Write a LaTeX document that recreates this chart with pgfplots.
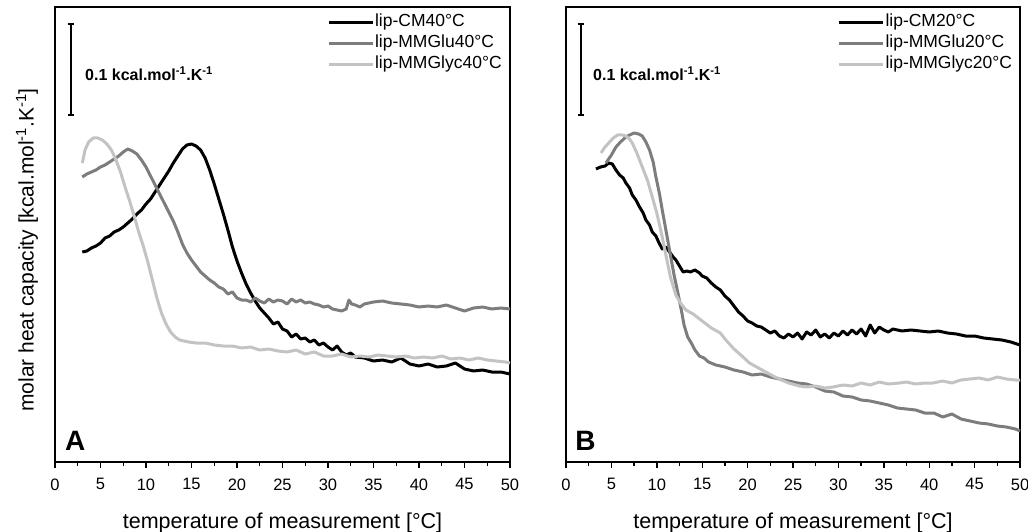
\documentclass[border=0pt]{standalone}
\usepackage{fontspec}
\setmainfont{Liberation Sans}
\usepackage{pgfplots}
\pgfplotsset{compat=1.18}
\usetikzlibrary{arrows.meta}
\definecolor{midgray}{RGB}{125,125,125}
\definecolor{lightgray}{RGB}{195,195,195}
\pgfplotsset{
  dscstyle/.style={
    scale only axis, width=455pt, height=455pt,
    xmin=0, xmax=50, ymin=7, ymax=462, y dir=reverse,
    xtick={0,5,...,50}, minor x tick num=1, ytick=\empty,
    tick align=outside, xtick pos=left,
    major tick length=6pt, minor tick length=4pt,
    every tick/.style={black, line width=1.4pt},
    axis line style={line width=1.5pt},
    /pgf/number format/assume math mode=true,
    xticklabel style={font=\fontsize{16.5}{18}\selectfont, yshift=-7pt},
    every axis x label/.style={at={(axis description cs:0.5,0)}, anchor=center, yshift=-61pt, font=\fontsize{21.5}{24}\selectfont},
    xlabel={temperature of measurement [°C]},
    clip=false,
    legend style={at={(axis description cs:0.598,0.988)}, anchor=north west, draw=none, fill=none,
      font=\fontsize{17.5}{20}\selectfont, inner sep=0pt, row sep=0pt,
      nodes={inner sep=0.8pt, text height=13.5pt, text depth=5.5pt},
      cells={anchor=west}},
    legend image code/.code={\draw[#1, line width=3pt] (0pt,0pt) -- (44pt,0pt);},
    every axis plot/.append style={line width=3pt, line join=round},
  }
}
\begin{document}
\begin{tikzpicture}
\path[use as bounding box] (0,0) rectangle (1028pt,532pt);
% ---------- Panel A ----------
\begin{axis}[dscstyle, at={(55pt,70pt)}, anchor=south west]
\addplot[black] coordinates {
(3.0,252) (3.5,251) (4.0,248) (4.5,246) (5.0,243) (5.5,238) (6.0,236) (6.5,232) (7.0,230) (7.5,227)
(8.0,223) (8.5,219) (9.0,214) (9.5,210) (10.0,204) (10.5,199) (11.0,192) (11.5,185) (12.0,178) (12.5,171)
(13.0,163) (13.5,156) (14.0,149) (14.5,145) (15.0,144) (15.5,146) (16.0,150) (16.5,158) (17.0,170) (17.5,184)
(18.0,199) (18.5,214) (19.0,230) (19.5,247) (20.0,261) (20.5,273) (21.0,284) (21.5,293) (22.0,301) (22.5,308)
(23.0,313) (23.5,318) (24.0,324) (24.5,322) (25.0,329) (25.5,331) (26.0,337) (26.5,334) (27.0,339) (27.5,338)
(28.0,342) (28.5,340) (29.0,345) (29.5,343) (30.0,347) (30.5,350) (31.0,346) (31.5,352) (32.0,355) (32.5,353)
(33.0,357) (34,358) (35,361) (36,360) (37,362) (38,358) (39,364) (40,366) (41,364) (42,367)
(43,366) (44,363) (45,369) (46,371) (47,370) (48,372) (49,372) (50,374)
};
\addlegendentry{lip-CM40°C}
\addplot[midgray] coordinates {
(3.0,177) (3.5,174) (4.0,172) (4.5,170) (5.0,167) (5.5,165) (6.0,162) (6.5,159) (7.0,156) (7.5,152)
(8.0,149) (8.5,151) (9.0,154) (9.5,160) (10.0,167) (10.5,176) (11.0,185) (11.5,194) (12.0,203) (12.5,212)
(13.0,221) (13.5,232) (14.0,244) (14.5,253) (15.0,260) (15.5,266) (16.0,272) (16.5,276) (17.0,280) (17.5,283)
(18.0,287) (18.5,289) (19.0,294) (19.5,292) (20.0,298) (20.5,300) (21,300) (21.5,302) (22,298) (22.5,301)
(23,303) (23.5,299) (24,302) (24.5,300) (25,301) (25.5,304) (26,299) (26.5,302) (27,300) (27.5,303)
(28,302) (28.5,304) (29,305) (29.5,307) (30,306) (30.5,309) (31,310) (31.5,311) (32,309) (32.3,300)
(32.6,304) (33,305) (33.5,307) (34,304) (35,302) (36,301) (37,303) (38,304) (39,305) (40,307)
(41,306) (42,307) (43,305) (44,308) (45,311) (46,308) (47,307) (48,309) (49,308) (50,309)
};
\addlegendentry{lip-MMGlu40°C}
\addplot[lightgray] coordinates {
(3.0,163) (3.3,150) (3.7,142) (4.2,138) (4.7,138) (5.2,140) (5.7,144) (6.2,150) (6.7,160) (7.2,172)
(7.7,187) (8.2,201) (8.7,216) (9.2,232) (9.7,246) (10.2,262) (10.7,280) (11.2,298) (11.7,313) (12.2,324)
(12.7,332) (13.2,337) (13.7,340) (14.2,341) (14.7,342) (15.5,343) (16.5,343) (17.5,345) (18.5,346) (19.5,346)
(20.5,348) (21.5,347) (22.5,350) (23.5,349) (24.5,351) (25.5,352) (26.5,350) (27.5,354) (28.5,352) (29.5,356)
(30.5,356) (31.5,354) (32.5,357) (33.5,356) (34.5,357) (35.5,355) (36.5,356) (37.5,357) (38.5,356) (39.5,358)
(40.5,357) (41.5,358) (42.5,356) (43.5,359) (44.5,358) (45.5,360) (46.5,358) (47.5,360) (48.5,361) (49.5,362) (50,363)
};
\addlegendentry{lip-MMGlyc40°C}
\draw[line width=2.2pt, {Bar[width=6pt,line width=1.6pt]}-{Bar[width=6pt,line width=1.6pt]}] (axis cs:1.73,23) -- (axis cs:1.73,116);
\node[anchor=west, inner sep=0pt, font=\bfseries\fontsize{16}{18}\selectfont] at (axis cs:3.3,74) {0.1 kcal.mol\textsuperscript{-1}.K\textsuperscript{-1}};
\node[anchor=south west, inner sep=0pt, font=\bfseries\fontsize{28}{30}\selectfont] at (axis cs:1.1,451) {A};
\node[rotate=90, anchor=center, inner sep=0pt, font=\fontsize{21}{24}\selectfont] at (axis cs:-3.08,250) {molar heat capacity [kcal.mol\textsuperscript{-1}.K\textsuperscript{-1}]};
\end{axis}
% ---------- Panel B ----------
\begin{axis}[dscstyle, at={(566pt,70pt)}, anchor=south west, width=454pt]
\addplot[black] coordinates {
(3.3,169) (3.8,167) (4.3,166) (4.7,163) (5.1,164) (5.5,170) (5.9,175) (6.3,178) (6.6,183) (7.0,188)
(7.3,195) (7.7,200) (8.1,207) (8.5,213) (8.8,220) (9.2,225) (9.5,232) (9.9,236) (10.2,242) (10.6,249)
(11.0,247) (11.4,252) (11.8,257) (12.1,260) (12.5,266) (12.9,272) (13.3,271) (13.7,272) (14.2,270) (14.7,273)
(15.0,276) (15.5,278) (16.0,283) (16.5,287) (17.0,290) (17.5,296) (18.0,300) (18.5,306) (19.0,312) (19.5,316)
(20.0,321) (20.5,323) (21.0,326) (21.5,327) (22.0,330) (22.5,333) (23.0,331) (23.5,336) (24.0,338) (24.5,334)
(25.0,337) (25.5,333) (26.0,339) (26.5,332) (27.0,335) (27.5,330) (28.0,337) (28.5,334) (29.0,338) (29.5,333)
(30.0,336) (30.5,331) (31.0,335) (31.5,330) (32.0,334) (32.5,329) (33.0,336) (33.5,325) (34.0,333) (34.5,327)
(35.0,330) (35.5,332) (36,329) (37,331) (38,330) (39,331) (40,332) (41,331) (42,333) (43,334)
(44,336) (45,336) (46,338) (47,339) (48,340) (49,342) (50,345)
};
\addlegendentry{lip-CM20°C}
\addplot[midgray] coordinates {
(4.4,163) (5.0,155) (5.5,147) (6.0,142) (6.6,137) (7.0,135) (7.5,133) (8.0,134) (8.4,136) (8.8,142)
(9.2,150) (9.6,162) (9.9,177) (10.3,194) (10.6,210) (11.0,230) (11.4,250) (11.9,275) (12.3,292) (12.7,310)
(13.0,325) (13.4,337) (13.8,343) (14.2,350) (14.7,356) (15.2,358) (15.7,362) (16.5,365) (17.5,367) (18.5,370)
(19.5,372) (20.5,375) (21.5,374) (22.5,377) (23.5,379) (24.5,381) (25.5,383) (26.5,384) (27.5,387) (28.5,391)
(29.5,392) (30.5,396) (31.5,397) (32.5,400) (33.5,401) (34.5,403) (35.5,405) (36.5,408) (37.5,409) (38.5,410)
(39.5,413) (40.5,413) (41.5,417) (42.5,414) (43.5,419) (44.5,421) (45.5,423) (46.5,424) (47.5,426) (48.5,427)
(49.5,429) (50,431)
};
\addlegendentry{lip-MMGlu20°C}
\addplot[lightgray] coordinates {
(3.85,153) (4.3,147) (4.8,142) (5.2,138) (5.7,135) (6.2,135) (6.6,136) (7.0,139) (7.3,143) (7.8,153)
(8.4,167) (9.0,181) (9.5,197) (10.0,213) (10.6,237) (11.0,255) (11.5,277) (12.1,295) (12.6,303) (13.2,310)
(14.0,314) (15.0,321) (16.0,328) (17.0,333) (17.6,340) (18.5,349) (19.5,357) (20.2,363) (21.0,367) (22.0,372)
(22.8,376) (23.5,379) (24.5,383) (25.7,386) (26.5,387) (27.5,386) (28.5,388) (29.4,387) (30.5,385) (31.5,386)
(32.5,383) (33.5,385) (34.5,382) (35.5,384) (36.7,383) (37.5,382) (38.5,384) (39.5,383) (40.4,383) (41.5,381)
(42.5,383) (43.5,380) (44.5,379) (45.5,378) (46.5,380) (47.5,377) (48.5,379) (49.5,380) (50,380)
};
\addlegendentry{lip-MMGlyc20°C}
\draw[line width=2.2pt, {Bar[width=6pt,line width=1.6pt]}-{Bar[width=6pt,line width=1.6pt]}] (axis cs:1.62,23) -- (axis cs:1.62,116);
\node[anchor=west, inner sep=0pt, font=\bfseries\fontsize{16}{18}\selectfont] at (axis cs:2.97,74) {0.1 kcal.mol\textsuperscript{-1}.K\textsuperscript{-1}};
\node[anchor=south west, inner sep=0pt, font=\bfseries\fontsize{28}{30}\selectfont] at (axis cs:1.0,451) {B};
\end{axis}
\end{tikzpicture}
\end{document}
